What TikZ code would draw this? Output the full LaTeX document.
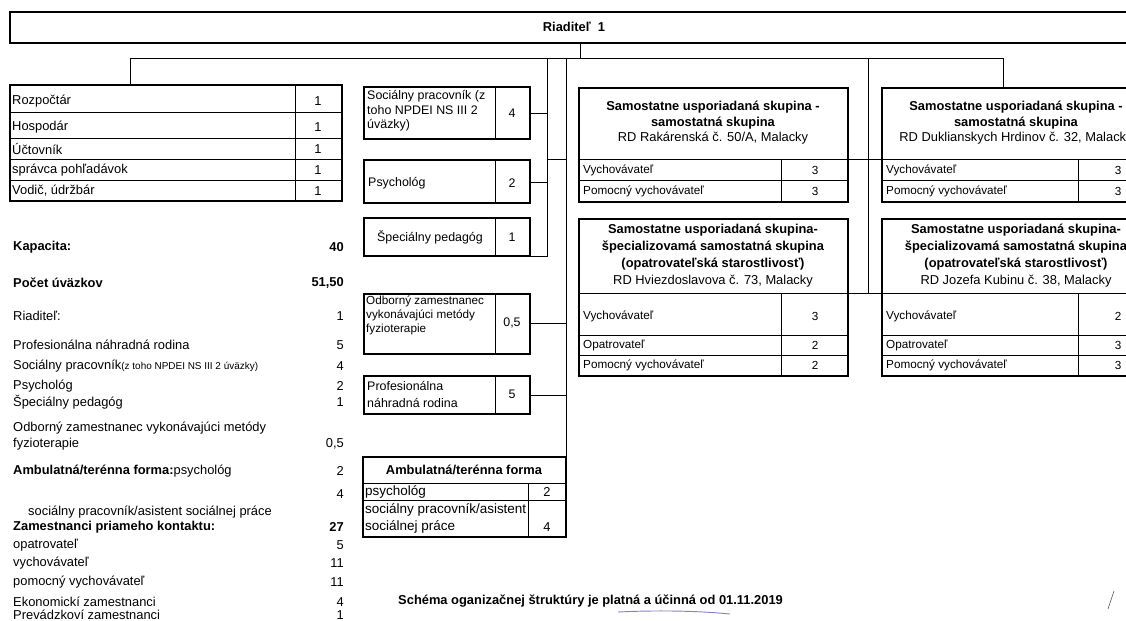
\documentclass[tikz,border=0pt]{standalone}
\usepackage{fontspec}
\setmainfont{Liberation Sans}

\tikzset{
	frame/.style={line width=1.5pt},
	rule/.style={line width=0.6pt},
	link/.style={line width=0.7pt},
	txt/.style={inner sep=0pt, font=\fontsize{10}{12.5}\selectfont},
	mid/.style={inner sep=0pt, font=\fontsize{10.6}{12.5}\selectfont},
	lst/.style={inner sep=0pt, font=\fontsize{11}{13}\selectfont},
	lstb/.style={inner sep=0pt, font=\fontsize{11}{13}\selectfont\bfseries},
	head/.style={inner sep=0pt, align=center, font=\fontsize{11}{13.2}\selectfont},
}

\begin{document}
\begin{tikzpicture}[x=0.03cm, y=-0.03cm]
			%%%%% START %%%%%
			\useasboundingbox (0, 0) rectangle (1126, 621);
			\clip (0, 0) rectangle (1126, 621);
			
			% riaditel
			\draw[frame] (10, 12) rectangle (1136, 43);
			\node[lstb] (riad) at (574, 27) {Riaditeľ\hspace{6pt}1};
			
			% connector points
			\coordinate (top) at (580, 43);
			\coordinate (busA) at (580, 58);
			\coordinate (busL) at (130, 58);
			\coordinate (busR) at (1003, 58);
			\coordinate (tabN) at (130, 85);
			\coordinate (staffN) at (547, 58);
			\coordinate (staffS) at (547, 256);
			\coordinate (pedE) at (530, 256);
			\coordinate (socE) at (530, 113);
			\coordinate (socJ) at (547, 113);
			\coordinate (psyE) at (530, 182);
			\coordinate (psyJ) at (547, 182);
			\coordinate (staffJ) at (547, 159);
			\coordinate (fieldJ) at (566, 159);
			\coordinate (fieldN) at (566, 58);
			\coordinate (ambNE) at (566, 457);
			\coordinate (fyzE) at (530, 323);
			\coordinate (fyzJ) at (566, 323);
			\coordinate (prfE) at (530, 395);
			\coordinate (prfJ) at (566, 395);
			\coordinate (grpN) at (868, 58);
			\coordinate (grpS) at (868, 293);
			\coordinate (grpAE) at (848, 159);
			\coordinate (grpBW) at (882, 159);
			\coordinate (grpCE) at (848, 293);
			\coordinate (grpDW) at (882, 293);
			\coordinate (grpBN) at (1003, 88);
			
			\draw[link] (top) -- (busA);
			\draw[link] (busL) -- (busR);
			\draw[link] (busL) -- (tabN);
			\draw[link] (staffN) -- (staffS) -- (pedE);
			\draw[link] (socE) -- (socJ);
			\draw[link] (psyE) -- (psyJ);
			\draw[link] (staffJ) -- (fieldJ);
			\draw[link] (fieldN) -- (ambNE);
			\draw[link] (fyzE) -- (fyzJ);
			\draw[link] (prfE) -- (prfJ);
			\draw[link] (grpN) -- (grpS);
			\draw[link] (grpAE) -- (grpBW);
			\draw[link] (grpCE) -- (grpDW);
			\draw[link] (busR) -- (grpBN);
			
			% ekonomicki a prevadzkovi
			\draw[frame] (10, 85) rectangle (342, 201);
			\draw[rule] (295, 85) -- (295, 201);
			\foreach \y in {112, 138, 159, 180}
				\draw[rule] (10, \y) -- (342, \y);
			\foreach \y/\t [count=\i] in {101/Rozpočtár, 127/Hospodár, 149/Účtovník, 170/správca pohľadávok, 191/{Vodič, údržbár}}{
				\node[lst, anchor=west] (eko\i) at (12, \y) {\t};
				\node[lst] (ekon\i) at (318, \y) {1};
			}
			
			% socialny pracovnik
			\draw[frame] (364, 87) rectangle (530, 139);
			\draw[rule] (495, 87) -- (495, 139);
			\node[mid, anchor=west, align=left] (soc) at (367, 111) {Sociálny pracovník (z\\toho NPDEI NS III 2\\úväzky)};
			\node[mid] (socn) at (512, 113) {4};
			
			% psycholog
			\draw[frame] (364, 160) rectangle (530, 203);
			\draw[rule] (495, 160) -- (495, 203);
			\node[mid, anchor=west] (psy) at (368, 183) {Psychológ};
			\node[mid] (psyn) at (512, 183) {2};
			
			% specialny pedagog
			\draw[frame] (364, 218) rectangle (530, 256);
			\draw[rule] (495, 218) -- (495, 256);
			\node[mid] (ped) at (430, 237) {Špeciálny pedagóg};
			\node[mid] (pedn) at (512, 237) {1};
			
			% fyzioterapia
			\draw[frame] (364, 294) rectangle (530, 354);
			\draw[rule] (495, 294) -- (495, 354);
			\node[inner sep=0pt, font=\fontsize{10}{12}\selectfont, anchor=west, align=left] (fyz) at (366, 315) {Odborný zamestnanec\\vykonávajúci metódy\\fyzioterapie};
			\node[mid] (fyzn) at (512, 323) {0,5};
			
			% profesionalna rodina
			\draw[frame] (364, 376) rectangle (530, 414);
			\draw[rule] (495, 376) -- (495, 414);
			\node[inner sep=0pt, font=\fontsize{10.6}{14.5}\selectfont, anchor=west, align=left] (prf) at (367, 394) {Profesionálna\\náhradná rodina};
			\node[mid] (prfn) at (512, 394) {5};
			
			% ambulatna forma
			\draw[frame] (363, 457) rectangle (566, 537);
			\draw[rule] (363, 483) -- (566, 483);
			\draw[rule] (363, 500) -- (566, 500);
			\draw[rule] (528, 483) -- (528, 537);
			\node[lstb] (amb) at (464, 470) {Ambulatná/terénna forma};
			\node[inner sep=0pt, font=\fontsize{11.5}{14.5}\selectfont, anchor=west] (ambpsy) at (365, 492) {psychológ};
			\node[lst] (ambpsyn) at (547, 492) {2};
			\node[inner sep=0pt, font=\fontsize{11.5}{14.5}\selectfont, anchor=west, align=left] (ambsoc) at (365, 518) {sociálny pracovník/asistent\\sociálnej práce};
			\node[lst] (ambsocn) at (547, 527) {4};
			
			% skupiny
			\draw[frame] (579, 88) rectangle (848, 202);
			\draw[rule] (579, 159) -- (848, 159);
			\draw[rule] (579, 180) -- (848, 180);
			\draw[rule] (781, 159) -- (781, 202);
			\node[head] (grpA) at (713, 123) {\textbf{Samostatne usporiadaná skupina -}\\\textbf{samostatná skupina}\\RD Rakárenská č. 50/A, Malacky};
			
			\draw[frame] (882, 88) rectangle (1151, 202);
			\draw[rule] (882, 159) -- (1151, 159);
			\draw[rule] (882, 180) -- (1151, 180);
			\draw[rule] (1078, 159) -- (1078, 202);
			\node[head] (grpB) at (1016, 123) {\textbf{Samostatne usporiadaná skupina -}\\\textbf{samostatná skupina}\\RD Duklianskych Hrdinov č. 32, Malacky};
			
			\draw[frame] (579, 219) rectangle (848, 376);
			\draw[rule] (579, 293) -- (848, 293);
			\draw[rule] (579, 335) -- (848, 335);
			\draw[rule] (579, 355) -- (848, 355);
			\draw[rule] (781, 293) -- (781, 376);
			\node[head, font=\fontsize{11}{14.5}\selectfont] (grpC) at (713, 256) {\textbf{Samostatne usporiadaná skupina-}\\\textbf{špecializovamá samostatná skupina}\\\textbf{(opatrovateľská starostlivosť)}\\RD Hviezdoslavova č. 73, Malacky};
			
			\draw[frame] (882, 219) rectangle (1151, 376);
			\draw[rule] (882, 293) -- (1151, 293);
			\draw[rule] (882, 335) -- (1151, 335);
			\draw[rule] (882, 355) -- (1151, 355);
			\draw[rule] (1078, 293) -- (1078, 376);
			\node[head, font=\fontsize{11}{14.5}\selectfont] (grpD) at (1016, 256) {\textbf{Samostatne usporiadaná skupina-}\\\textbf{špecializovamá samostatná skupina}\\\textbf{(opatrovateľská starostlivosť)}\\RD Jozefa Kubinu č. 38, Malacky};
			
			\foreach \x/\g/\a/\b in {583/A/3/3, 886/B/3/3}{
				\node[txt, anchor=west] (vych\g) at (\x, 170) {Vychovávateľ};
				\node[txt] (vychn\g) at (\x+232, 170) {\a};
				\node[txt, anchor=west] (pom\g) at (\x, 191) {Pomocný vychovávateľ};
				\node[txt] (pomn\g) at (\x+232, 191) {\b};
			}
			\foreach \x/\g/\a/\b/\c in {583/C/3/2/2, 886/D/2/3/3}{
				\node[txt, anchor=west] (vych\g) at (\x, 316) {Vychovávateľ};
				\node[txt] (vychn\g) at (\x+232, 316) {\a};
				\node[txt, anchor=west] (opa\g) at (\x, 345) {Opatrovateľ};
				\node[txt] (opan\g) at (\x+232, 345) {\b};
				\node[txt, anchor=west] (pom\g) at (\x, 365) {Pomocný vychovávateľ};
				\node[txt] (pomn\g) at (\x+232, 365) {\c};
			}
			
			% suhrn
			\node[lstb, anchor=west] (kap) at (13, 247) {Kapacita:};
			\node[lstb, anchor=east] (kapn) at (344, 247) {40};
			\node[lstb, anchor=west] (uvz) at (13, 283) {Počet úväzkov};
			\node[lstb, anchor=east] (uvzn) at (344, 283) {51,50};
			\foreach \y/\t/\n [count=\i] in {316/Riaditeľ:/1, 345/Profesionálna náhradná rodina/5, 366/Sociálny pracovník{\fontsize{8.5}{9}\selectfont(z toho NPDEI NS III 2 úväzky)}/4, 386/Psychológ/2, 402/Špeciálny pedagóg/1}{
				\node[lst, anchor=west] (sum\i) at (13, \y) {\t};
				\node[lst, anchor=east] (sumn\i) at (344, \y) {\n};
			}
			\node[lst, anchor=west] (odb) at (13, 428) {Odborný zamestnanec vykonávajúci metódy};
			\node[lst, anchor=west] (odb2) at (13, 444) {fyzioterapie};
			\node[lst, anchor=east] (odbn) at (344, 444) {0,5};
			\node[lst, anchor=west] (amf) at (13, 471) {\textbf{Ambulatná/terénna forma:}psychológ};
			\node[lst, anchor=east] (amfn) at (344, 471) {2};
			\node[lst, anchor=east] (amfn2) at (344, 494) {4};
			\node[lst, anchor=west] (amf2) at (28, 512) {sociálny pracovník/asistent sociálnej práce};
			\node[lstb, anchor=west] (pri) at (13, 527) {Zamestnanci priameho kontaktu:};
			\node[lstb, anchor=east] (prin) at (344, 527) {27};
			\foreach \y/\t/\n [count=\i] in {545/opatrovateľ/5, 563/vychovávateľ/11, 582/pomocný vychovávateľ/11, 602/Ekonomickí zamestnanci/4, 615/Prevádzkoví zamestnanci/1}{
				\node[lst, anchor=west] (zam\i) at (13, \y) {\t};
				\node[lst, anchor=east] (zamn\i) at (344, \y) {\n};
			}
			
			% platnost
			\node[inner sep=0pt, font=\fontsize{11}{13}\selectfont\bfseries, anchor=west] (plat) at (398, 601) {Schéma oganizačnej štruktúry je platná a účinná od 01.11.2019};
			\draw[line width=0.8pt, color=blue!40!gray!70] (618, 612) .. controls (660, 610) and (700, 611) .. (730, 614);
			\draw[line width=0.5pt, color=black!70] (1114, 591) -- (1108, 609);
			
			%%%%% END %%%%%
\end{tikzpicture}
\end{document}
